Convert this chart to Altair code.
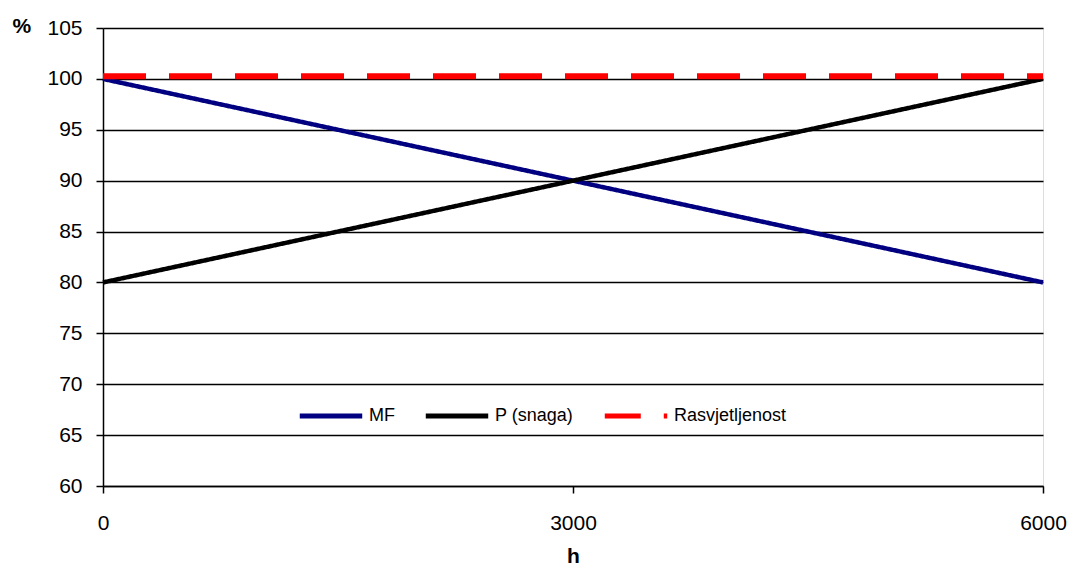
import altair as alt
import pandas as pd

hours = [0, 3000, 6000]
mf = [100, 90, 80]
snaga = [80, 90, 100]
rasvjetljenost = [100.25, 100.25, 100.25]
series_names = ["MF", "P (snaga)", "Rasvjetljenost"]

rows = []
for name, vals in zip(series_names, [mf, snaga, rasvjetljenost]):
    for h, v in zip(hours, vals):
        rows.append({"h": h, "v": v, "s": name})
df = pd.DataFrame(rows)

FONT = "Liberation Sans"

color = alt.Color(
    "s:N",
    scale=alt.Scale(domain=series_names, range=["#000080", "#000000", "#FF0000"]),
    legend=alt.Legend(
        title=None, orient="none", legendX=194, legendY=354, direction="horizontal",
        symbolType="stroke", symbolSize=3900, symbolStrokeWidth=5,
        symbolDashOffset=7,
        labelFont=FONT, labelFontSize=18, labelColor="#000", columnPadding=20,
        symbolOffset=0, labelOffset=4,
    ),
)
dash = alt.StrokeDash(
    "s:N",
    scale=alt.Scale(domain=series_names, range=[[1, 0], [1, 0], [43, 23]]),
    legend=None,
)

x = alt.X("h:Q", scale=alt.Scale(domain=[0, 6000], nice=False),
          axis=alt.Axis(values=[0, 3000, 6000], format="d", grid=False, title="h",
                        titleFontWeight="bold", titleFont=FONT, titleFontSize=21,
                        titlePadding=12, labelFont=FONT, labelFontSize=21,
                        labelPadding=19, tickSize=7, tickColor="#000", tickWidth=1.5,
                        domainColor="#000", domainWidth=1.5, labelColor="#000",
                        titleColor="#000", labelFlush=False))
y = alt.Y("v:Q", scale=alt.Scale(domain=[60, 105], nice=False, zero=False),
          axis=alt.Axis(values=list(range(60, 106, 5)), grid=True, gridColor="#000",
                        gridWidth=1.5, gridOpacity=1, title="%", titleAngle=0,
                        titleX=-91, titleY=-2, titleAlign="left",
                        titleBaseline="middle",
                        titleFontWeight="bold", titleFont=FONT, titleFontSize=21,
                        labelFont=FONT, labelFontSize=21, labelPadding=14,
                        tickSize=7, tickColor="#000", tickWidth=1.5,
                        domainColor="#000", domainWidth=1.5, labelColor="#000",
                        titleColor="#000"))

base = alt.Chart(df).encode(x=x, y=y, color=color, strokeDash=dash)

l1 = base.mark_line(strokeWidth=4.5).transform_filter(alt.datum.s == "MF")
l2 = base.mark_line(strokeWidth=4.5).transform_filter(alt.datum.s == "P (snaga)")
l3 = base.mark_line(strokeWidth=6).transform_filter(alt.datum.s == "Rasvjetljenost")

chart = alt.layer(l1, l2, l3).properties(
    width=940, height=458,
    autosize=alt.AutoSizeParams(type="none"),
    padding={"left": 95, "top": 20, "right": 25, "bottom": 80},
).configure_view(stroke=None).configure(background="white")

chart.save("out.html", embed_options={"renderer": "svg", "actions": False})
